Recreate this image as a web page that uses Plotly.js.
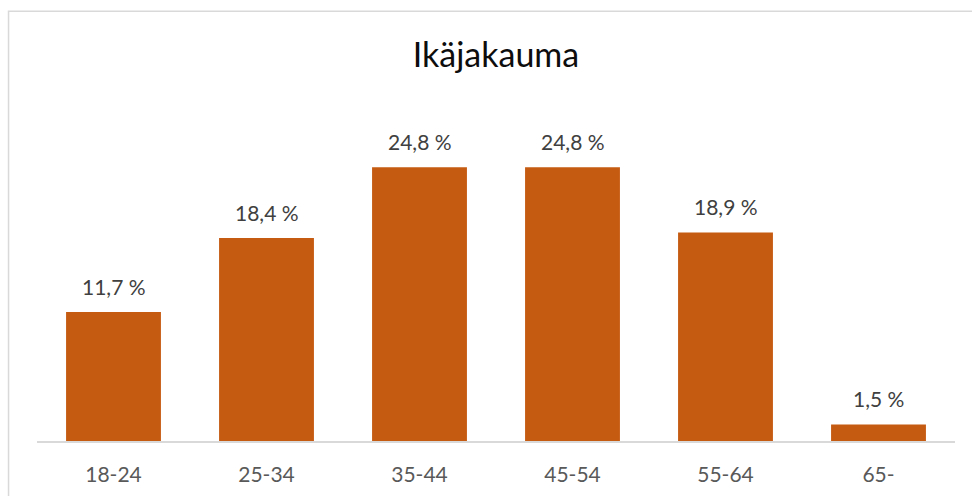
<!DOCTYPE html>
<html>
<head>
<meta charset="utf-8">
<script src="https://cdn.plot.ly/plotly-3.0.1.min.js"></script>
<style>html,body{margin:0;padding:0;background:#fff;}#chart{width:972px;height:496px;}</style>
</head>
<body>
<div id="chart"></div>
<script>
const categories = ["18-24", "25-34", "35-44", "45-54", "55-64", "65-"];
const values = [11.7, 18.4, 24.8, 24.8, 18.9, 1.5];
const labels = ["11,7 %", "18,4 %", "24,8 %", "24,8 %", "18,9 %", "1,5 %"];

const FONT = "Lato, 'Open Sans', sans-serif";

const trace = {
  type: "bar",
  x: categories,
  y: values,
  marker: {color: "#C55A11", line: {width: 0}},
  hoverinfo: "skip"
};

const annotations = categories.map((c, i) => ({
  x: c, y: values[i], xref: "x", yref: "y",
  text: labels[i], showarrow: false,
  yanchor: "bottom", yshift: 11,
  font: {family: FONT, size: 21, color: "#404040"}
}));

const layout = {
  width: 972, height: 496,
  margin: {l: 37, r: 17, t: 109.5, b: 55, pad: 0},
  paper_bgcolor: "#ffffff", plot_bgcolor: "#ffffff",
  title: {
    text: "Ikäjakauma",
    font: {family: FONT, size: 34, color: "#0d0d0d"},
    x: 0.5, xref: "paper", xanchor: "center",
    y: 54, yref: "container", yanchor: "middle"
  },
  bargap: 0.38,
  showlegend: false,
  xaxis: {
    type: "category",
    showline: true, linecolor: "#d9d9d9", linewidth: 1.5,
    showgrid: false, zeroline: false, ticks: "",
    ticklabelstandoff: 14,
    tickfont: {family: FONT, size: 21, color: "#595959"}
  },
  yaxis: {
    range: [0, 30], visible: false, showgrid: false, zeroline: false
  },
  annotations: annotations,
  shapes: [{
    type: "path", xref: "paper", yref: "paper",
    path: "M -0.031 -0.3 L -0.031 1.2986 L 1.05 1.2986",
    line: {color: "#d9d9d9", width: 1.5}
  }]
};

Plotly.newPlot("chart", [trace], layout, {displayModeBar: false, staticPlot: true});
</script>
</body>
</html>
